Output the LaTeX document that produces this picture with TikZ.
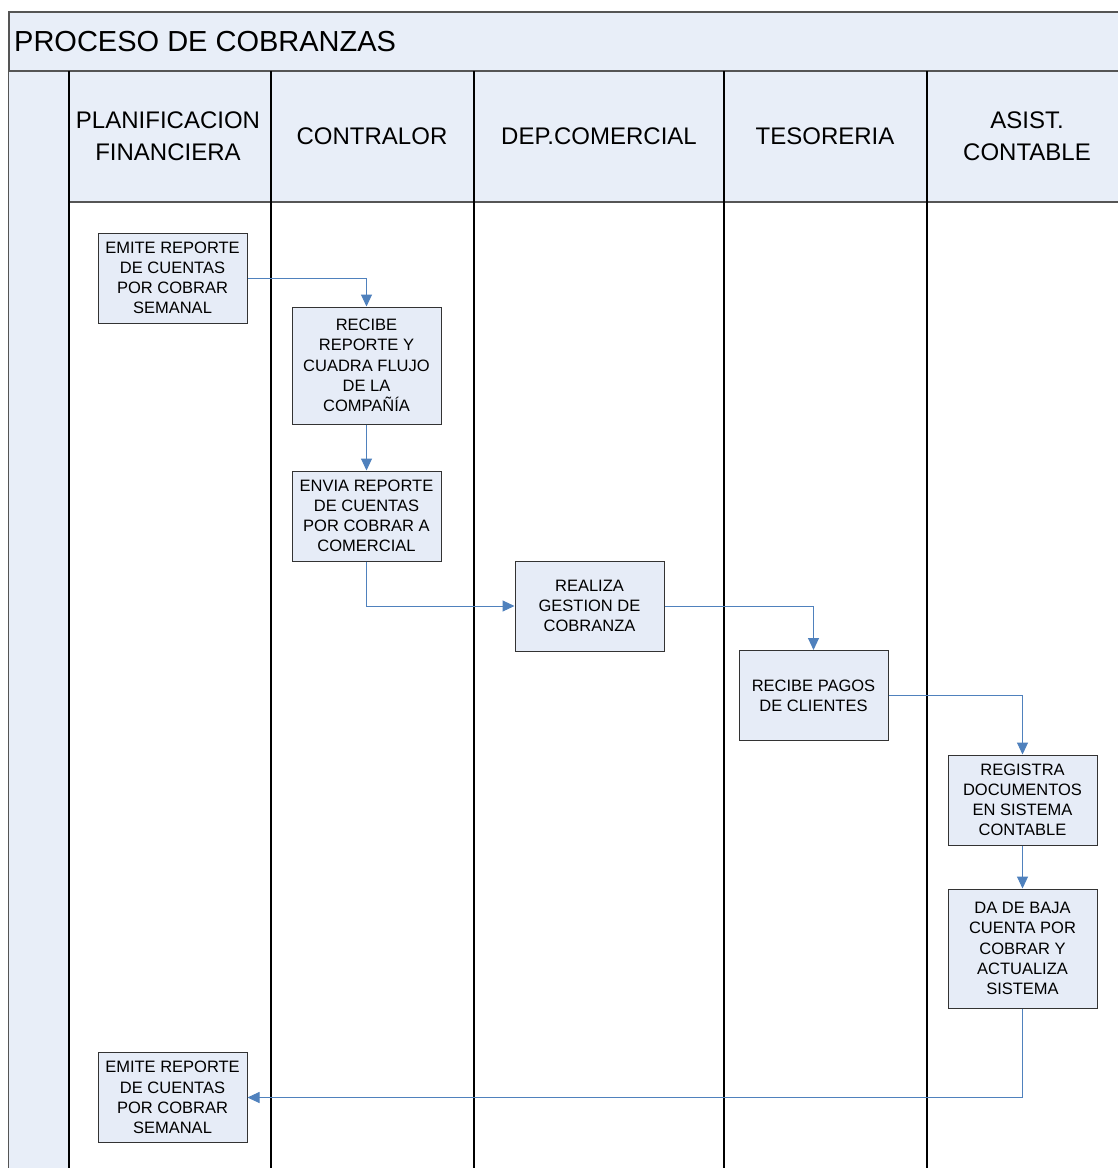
\documentclass[tikz,border=0pt]{standalone}
\usepackage{fontspec}
\setmainfont{Liberation Sans}
\usetikzlibrary{arrows.meta}
\definecolor{hdrfill}{HTML}{E8EEF8}
\definecolor{boxfill}{HTML}{E6ECF7}
\definecolor{conncol}{HTML}{4F81BD}
\definecolor{framecol}{HTML}{555555}
\tikzset{
  procbox/.style={draw=black!80, line width=1pt, fill=boxfill, minimum width=149pt, minimum height=90pt,
    inner sep=0pt, align=center, font=\fontsize{16.5}{20.2}\selectfont},
  tallbox/.style={procbox, minimum height=118pt},
  conn/.style={draw=conncol, line width=1pt, -{Triangle[length=12pt,width=11pt]}},
  lanehdr/.style={align=center, inner sep=0pt, font=\fontsize{24}{31.5}\selectfont},
  laneline/.style={draw=black, line width=1.3pt}
}
\begin{document}
\begin{tikzpicture}[x=1pt,y=-1pt]
\useasboundingbox (0,0) rectangle (1118,1168);
\fill[white] (0,0) rectangle (1118,1168);
% title bar
\fill[hdrfill] (9,12) rectangle (1130,71);
\draw[framecol, line width=1.2pt] (9,1180) -- (9,12) -- (1130,12);
\node[anchor=base west, inner sep=0pt, font=\fontsize{29}{34}\selectfont] (title) at (14,51) {PROCESO DE COBRANZAS};
% left band
\fill[hdrfill] (9,71) rectangle (69,1180);
% header cells
\fill[hdrfill] (69,71) rectangle (1130,202);
\draw[framecol, line width=2pt] (9,71) -- (1130,71);
\draw[framecol, line width=1.3pt] (69,202) -- (1130,202);
% lane lines
\foreach \xx in {69,271,474,724,927} {\draw[laneline] (\xx,71) -- (\xx,1180);}
% lane headers
\node[lanehdr] (h1) at (168,136) {PLANIFICACION\\FINANCIERA};
\node[lanehdr] (h2) at (372,136) {CONTRALOR};
\node[lanehdr] (h3) at (599,136) {DEP.COMERCIAL};
\node[lanehdr] (h4) at (825,136) {TESORERIA};
\node[lanehdr] (h5) at (1027,136) {ASIST.\\CONTABLE};
% process boxes
\node[procbox] (b1) at (172.5,278) {EMITE REPORTE\\DE CUENTAS\\POR COBRAR\\SEMANAL};
\node[tallbox, minimum height=117pt] (b2) at (366.5,365.5) {RECIBE\\REPORTE Y\\CUADRA FLUJO\\DE LA\\COMPAÑÍA};
\node[procbox] (b3) at (366.5,516) {ENVIA REPORTE\\DE CUENTAS\\POR COBRAR A\\COMERCIAL};
\node[procbox] (b4) at (589.5,606) {REALIZA\\GESTION DE\\COBRANZA};
\node[procbox] (b5) at (813.5,695.5) {RECIBE PAGOS\\DE CLIENTES};
\node[procbox] (b6) at (1022.5,800) {REGISTRA\\DOCUMENTOS\\EN SISTEMA\\CONTABLE};
\node[tallbox, minimum height=119pt] (b7) at (1022.5,948.5) {DA DE BAJA\\CUENTA POR\\COBRAR Y\\ACTUALIZA\\SISTEMA};
\node[procbox] (b8) at (172.5,1097.5) {EMITE REPORTE\\DE CUENTAS\\POR COBRAR\\SEMANAL};
% connectors
\draw[conn] (b1.east) -| (b2.north);
\draw[conn] (b2.south) -- (b3.north);
\draw[conn] (b3.south) |- (b4.west);
\draw[conn] (b4.east) -| (b5.north);
\draw[conn] (b5.east) -| (b6.north);
\draw[conn] (b6.south) -- (b7.north);
\draw[conn] (b7.south) |- (b8.east);
\end{tikzpicture}
\end{document}
